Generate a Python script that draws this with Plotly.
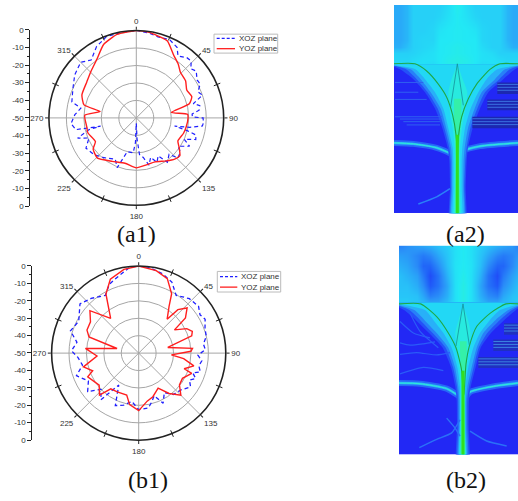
import plotly.graph_objects as go

W, H = 518, 501

# ---------- polar data (angle in degrees, gain in dB) ----------
a1_red_ang = [0,8,15,22,31,38,44,53,61,69,75,81,86,90,100,108,119,125,131,137,145,157,168,180,194,209,224,234,240,253,260,273,280,284,293,306,315,326,336,347,360]
a1_red_db = [0,-0.4,-1.5,-2.5,-8.3,-11,-13.7,-14.7,-17,-16,-18.6,-29.7,-20.6,-20.4,-21,-21.6,-22.8,-20,-17,-17.8,-20,-22.7,-22.5,-21.4,-23.3,-21.6,-18,-19.5,-23,-21,-21.2,-20.5,-29,-19.2,-16.2,-15,-13,-9.6,-4,-1,0]
a1_blue_ang = [0,8,15,23,30,34,40,44,48,52,58,62,67,71,76,79,83,86,89,90,94,97,100,102,104,106,110,114,118,124,128,134,138,145,150,155,160,165,170,175,178,180,182,185,195,201,207,219,229,239,247,251,256,257,259,265,273,280,284,295,305,315,322,331,340,350,360]
a1_blue_db = [0,-0.8,-2,-1.3,-3.4,-7.3,-5,-4.8,-8,-6.5,-9,-8.6,-11.7,-10,-16.4,-13,-13.8,-18,-17.9,-11.8,-11.5,-11.9,-19,-27.6,-20,-14.5,-13.8,-20,-15.5,-21,-18,-17,-22,-19,-25,-22,-26,-22,-27,-29,-38,-47,-36,-30,-30,-19.5,-23.5,-20.7,-18,-16.4,-20.6,-14.5,-22,-29,-14.8,-12.5,-14.8,-17.8,-12,-10,-7,-5,-8,-3.2,-0.4,-0.5,0]

b1_red_ang = [0,12,21,29,33,40,42,47,53,57,63,68,72,79,85,88,93,97,103,109,111,120,128,135,143,151,162,170,180,190,196,209,218,223,231,245,249,256,266,275,282,288,294,303,311,321,331,339,350,360]
b1_red_db = [0,-1.6,-4.2,-11,-18,-24.6,-16.4,-12,-16.4,-25.5,-19,-16.8,-18,-33,-19,-20,-31.2,-24,-17.5,-22.4,-17.4,-21,-20.3,-15.8,-21,-27,-23.7,-22,-17,-20,-25,-24.6,-24,-17,-20.8,-17.7,-21.7,-17.3,-26,-19.3,-37.3,-20,-17.5,-17,-12.9,-24.4,-11.2,-4.6,-1.2,0]
b1_blue_ang = [0,7,17,25,33,38,43,52,58,63,70,76,82,87,92,97,102,107,110,114,118,123,131,140,147,154,160,165,170,180,188,196,204,212,219,226,233,241,250,258,266,272,280,288,298,310,319,330,337,344,354,360]
b1_blue_db = [0,-0.4,-2.5,-5,-10.5,-9,-7.3,-6.4,-8.5,-7.2,-9.5,-10,-12.5,-11.7,-16,-13.5,-14.7,-13,-17,-14.2,-17,-14.5,-17.8,-19,-23,-18,-24,-21,-18,-17.5,-22,-19,-17,-28.4,-15.5,-20,-13.3,-17,-12,-17,-15,-11.4,-14,-8.8,-11,-6,-8.4,-11.7,-7,-4.8,-0.5,0]

rad_tick_vals = [50,40,30,20,10,0,-10,-20,-30,-40,-50]
rad_tick_text = ['0','-10','-20','-30','-40','-50','-40','-30','-20','-10','0']
ang_ticks = [0,45,90,135,180,225,270,315]
ang_minor = [22.5,67.5,112.5,157.5,202.5,247.5,292.5,337.5]
series_names = ['XOZ plane','YOZ plane']

# ---------- field map a2 ----------
a2_x = [42,60,80,100,130,160,180,205,232,260,285,305,335,360,380,400,414]
a2_y = [3,40,80,110,130,150,170,183,184,640]
a2_z = [
 [.43,.43,.47,.56,.56,.56,.56,.60,.68,.60,.56,.56,.56,.56,.47,.43,.43],
 [.43,.43,.47,.56,.56,.56,.58,.62,.66,.62,.58,.56,.56,.56,.47,.43,.43],
 [.43,.43,.47,.56,.56,.58,.63,.65,.66,.65,.63,.58,.56,.56,.47,.43,.43],
 [.43,.43,.47,.56,.58,.58,.65,.65,.66,.65,.65,.58,.56,.56,.47,.43,.43],
 [.45,.45,.50,.56,.58,.60,.65,.66,.68,.66,.65,.60,.56,.56,.50,.45,.45],
 [.56,.56,.56,.57,.60,.62,.65,.66,.68,.66,.65,.62,.60,.56,.56,.56,.56],
 [.58,.58,.58,.60,.62,.62,.65,.68,.70,.68,.65,.62,.62,.60,.58,.58,.58],
 [.60,.60,.60,.62,.62,.60,.65,.68,.70,.68,.65,.60,.62,.62,.60,.60,.60],
 [.02]*17,
 [.02]*17,
]
a2_rows = [184,200,230,270,320,380,440,480,560,700]
a2_glow = [
 ('#2450f8',[20,60,100,135,165,187,203,208,210,210],[440,405,370,325,300,278,264,260,257,256]),
 ('#2880f8',[20,78,110,143,173,193,208,212,213,213],[440,390,358,315,292,271,260,256,253,253]),
 ('#28b0f8',[20,92,122,152,182,199,213,216,216,216],[440,375,345,305,284,264,254,251,250,250]),
 ('#22d8f5',[20,106,135,165,190,205,218,220,220,220],[440,352,320,295,272,255,247,245,245,245]),
]
a2_wedge_y = [190,230,270,320,380,440,480,560,700]
a2_wedge_l = [232,215,205,208,218,224,224,224,224]
a2_wedge_r = [232,248,262,256,246,240,240,240,240]
a2_core_y = [290,340,400,470,700]
a2_core_l = [222,222,225,228,228]
a2_core_r = [244,244,240,237,237]
a2_curve_lx = [42,105,140,175,200,218,228,232,232]
a2_curve_ly = [183,183,205,245,285,340,400,470,640]
a2_curve_rx = [414,360,330,290,265,245,235,232]
a2_curve_ry = [183,183,200,245,290,345,410,470]
a2_spike_x = [212,232,250]
a2_spike_y = [315,183,310]
a2_band_lx = [42,100,170,215,232]
a2_band_ly = [425,428,440,460,480]
a2_band_rx = [235,250,300,414]
a2_band_ry = [480,450,435,425]
a2_arc_x = [115,170,210]
a2_arc_y = [612,590,565]
a2_streaks = [(45,185,345),(60,185,352),(70,180,360),(80,180,370),(45,130,240),(45,115,270),(45,140,292)]
a2_hatch = [(352,414,240,275),(322,414,292,325),(277,414,345,380)]

# ---------- field map b2 ----------
b2_x = [57,80,110,130,150,175,200,225,249,273,300,325,350,370,395,414]
b2_y = [18,50,80,110,140,170,192,193,656]
b2_z = [
 [.30,.35,.40,.42,.45,.50,.55,.62,.66,.62,.55,.50,.45,.42,.38,.30],
 [.40,.38,.32,.28,.32,.42,.52,.62,.66,.62,.52,.42,.32,.28,.32,.38],
 [.45,.42,.33,.22,.22,.34,.50,.63,.66,.63,.50,.34,.22,.22,.33,.42],
 [.50,.46,.40,.28,.14,.26,.46,.62,.68,.62,.46,.26,.14,.28,.40,.46],
 [.50,.50,.44,.34,.18,.26,.42,.62,.70,.62,.42,.26,.18,.34,.44,.50],
 [.52,.52,.50,.42,.30,.34,.45,.62,.70,.62,.45,.34,.30,.42,.50,.52],
 [.55,.55,.52,.48,.42,.42,.50,.62,.70,.62,.50,.42,.42,.48,.52,.55],
 [.02]*16,
 [.02]*16,
]
b2_rows = [192,215,245,285,330,390,450,490,570,720]
b2_glow = [
 ('#2450f8',[30,72,107,147,188,213,226,230,231,231],[440,408,373,333,302,287,272,267,266,266]),
 ('#2880f8',[30,88,120,158,197,219,231,234,235,235],[440,396,360,322,296,281,267,262,262,262]),
 ('#28b0f8',[30,103,133,170,205,225,235,238,238,238],[440,385,347,310,290,275,262,258,258,258]),
 ('#22d8f5',[30,135,160,190,215,232,240,240,240,240],[440,360,330,300,280,265,256,255,255,255]),
]
b2_wedge_y = [205,245,285,330,390,450,490,570,720]
b2_wedge_l = [249,236,226,230,238,243,244,244,244]
b2_wedge_r = [249,264,272,268,260,254,254,254,254]
b2_core_y = [310,340,400,470,720]
b2_core_l = [240,240,243,245,245]
b2_core_r = [260,260,256,253,253]
b2_curve_lx = [57,122,170,205,228,245,249,249]
b2_curve_ly = [196,196,235,285,330,400,480,656]
b2_curve_rx = [414,378,330,290,268,258,252,249]
b2_curve_ry = [196,196,225,265,325,380,470,480]
b2_spike_x = [228,249,268]
b2_spike_y = [325,196,322]
b2_band_lx = [57,120,200,240]
b2_band_ly = [438,440,455,480]
b2_band_rx = [252,270,340,414]
b2_band_ry = [490,465,448,438]
b2_roots = [
 ([118,170,215,240],[635,610,590,550]),
 ([270,320,380],[585,615,630]),
 ([200,225,240],[545,575,600]),
]
b2_texture = [
 ([60,90,130,165],[315,322,318,312]),
 ([60,110,170,210],[350,345,352,345]),
 ([60,100,150],[250,285,300]),
 ([90,120,175],[225,280,330]),
 ([60,130,190],[410,390,400]),
]
b2_hatch = [(372,414,255,290),(340,414,305,340),(295,414,358,392)]

colorscale = [[0,'#2222f5'],[.2,'#2060f8'],[.35,'#2a90f8'],[.5,'#28c0f8'],[.65,'#22e8f5'],[.8,'#30f5c0'],[1,'#20e030']]

fig = go.Figure()

def polar_pair(subplot, rb, ra, bb, ba, blue_w, red_shape):
    fig.add_trace(go.Scatterpolar(theta=ba, r=bb, mode='lines', name=series_names[0], subplot=subplot, showlegend=False,
                                  line=dict(color='#1f1fff', width=blue_w, dash='4px,3px')))
    fig.add_trace(go.Scatterpolar(theta=ra, r=rb, mode='lines', name=series_names[1], subplot=subplot, showlegend=False,
                                  line=dict(color='#ff1f1f', width=1.4, shape=red_shape, smoothing=0.5)))
    fig.add_trace(go.Scatterpolar(theta=ang_minor, r=[0]*len(ang_minor), mode='markers', subplot=subplot, showlegend=False,
                                  hoverinfo='skip', cliponaxis=False,
                                  marker=dict(symbol='line-ns', size=5, angle=ang_minor, color='#222', line=dict(width=1, color='#222'))))

polar_pair('polar', a1_red_db, a1_red_ang, a1_blue_db, a1_blue_ang, 1.2, 'spline')
polar_pair('polar2', b1_red_db, b1_red_ang, b1_blue_db, b1_blue_ang, 1.3, 'linear')

def line(x, y, xa, ya, color, width, shape='spline'):
    fig.add_trace(go.Scatter(x=x, y=y, xaxis=xa, yaxis=ya, mode='lines', showlegend=False, hoverinfo='skip',
                             line=dict(color=color, width=width, shape=shape, smoothing=0.6)))

def poly(x, y, xa, ya, color, shape='spline'):
    fig.add_trace(go.Scatter(x=x, y=y, xaxis=xa, yaxis=ya, mode='lines', fill='toself', fillcolor=color,
                             showlegend=False, hoverinfo='skip', line=dict(width=0, color=color, shape=shape, smoothing=0.6)))

def field(xa, ya, x, y, z, rows, glow, wy, wl, wr, cy, cl, cr, clx, cly, crx, cry, sx, sy, blx, bly, brx, bry):
    fig.add_trace(go.Heatmap(x=x, y=y, z=z, xaxis=xa, yaxis=ya, colorscale=colorscale, zmin=0, zmax=1,
                             zsmooth='best', showscale=False, hoverinfo='skip'))
    line(blx, bly, xa, ya, 'rgba(40,120,248,0.8)', 6)
    line(brx, bry, xa, ya, 'rgba(40,120,248,0.8)', 6)
    line(blx, bly, xa, ya, '#28b8f5', 2.5)
    line(brx, bry, xa, ya, '#28b8f5', 2.5)
    line(blx, bly, xa, ya, '#30e8d8', 1)
    line(brx, bry, xa, ya, '#30e8d8', 1)
    for color, l, r in glow:
        poly(l + r[::-1], rows + rows[::-1], xa, ya, color)
    poly(wl + wr[::-1], wy + wy[::-1], xa, ya, '#28eadf')
    poly(cl + cr[::-1], cy + cy[::-1], xa, ya, '#34f0a8')
    line(clx, cly, xa, ya, '#1fa845', 1.1)
    line(crx, cry, xa, ya, '#1fa845', 1.1)
    line(sx, sy, xa, ya, '#15909a', 0.8, 'linear')

field('x2','y2',a2_x,a2_y,a2_z,a2_rows,a2_glow,a2_wedge_y,a2_wedge_l,a2_wedge_r,a2_core_y,a2_core_l,a2_core_r,a2_curve_lx,a2_curve_ly,a2_curve_rx,a2_curve_ry,a2_spike_x,a2_spike_y,a2_band_lx,a2_band_ly,a2_band_rx,a2_band_ry)
line([232,232],[400,640],'x2','y2','#30e020',3)
line(a2_arc_x,a2_arc_y,'x2','y2','#2a80f8',1.5)
for x0,x1,y in a2_streaks:
    line([x0,x1],[y,y],'x2','y2','#2f60f0',1,'linear')
for x0,x1,y0,y1 in a2_hatch:
    poly([x0,x1,x1,x0],[y0,y0,y1,y1],'x2','y2','#1c28b0','linear')
    for y in [y0+6,y0+15,y0+24]:
        line([x0,x1],[y,y],'x2','y2','#3a70e0',1,'linear')

field('x3','y3',b2_x,b2_y,b2_z,b2_rows,b2_glow,b2_wedge_y,b2_wedge_l,b2_wedge_r,b2_core_y,b2_core_l,b2_core_r,b2_curve_lx,b2_curve_ly,b2_curve_rx,b2_curve_ry,b2_spike_x,b2_spike_y,b2_band_lx,b2_band_ly,b2_band_rx,b2_band_ry)
line([249,249],[400,656],'x3','y3','#30e020',3)
for rx,ry in b2_roots:
    line(rx,ry,'x3','y3','#2a70f8',1.5)
for rx,ry in b2_texture:
    line(rx,ry,'x3','y3','#2a5cf8',1.2)
for x0,x1,y0,y1 in b2_hatch:
    poly([x0,x1,x1,x0],[y0,y0,y1,y1],'x3','y3','#2030c0','linear')
    for y in [y0+6,y0+15,y0+24]:
        line([x0,x1],[y,y],'x3','y3','#3a80e0',1,'linear')

# radial scale bars
fig.add_trace(go.Scatter(x=[0,0], y=[-50,50], xaxis='x4', yaxis='y4', mode='lines', showlegend=False,
                         hoverinfo='skip', line=dict(width=0)))
fig.add_trace(go.Scatter(x=[0,0], y=[-50,50], xaxis='x5', yaxis='y5', mode='lines', showlegend=False,
                         hoverinfo='skip', line=dict(width=0)))

def polar_layout(cx, cy, R):
    return dict(
        domain=dict(x=[(cx-R)/W,(cx+R)/W], y=[1-(cy+R)/H,1-(cy-R)/H]),
        bgcolor='white',
        angularaxis=dict(direction='clockwise', rotation=90, tickmode='array', tickvals=ang_ticks,
                         ticks='outside', ticklen=3, tickcolor='#222', gridcolor='#a6a6a6', gridwidth=1,
                         linecolor='#222', linewidth=1.6, tickfont=dict(family='Liberation Sans', size=8, color='#333')),
        radialaxis=dict(range=[-50,0], tickvals=[-40,-30,-20,-10], showticklabels=False, ticks='',
                        showline=False, gridcolor='#a6a6a6', gridwidth=1),
    )

def radial_y(top, bottom, anchor):
    return dict(domain=[1-bottom/H,1-top/H], range=[-50,50], anchor=anchor, tickmode='array',
                tickvals=rad_tick_vals, ticktext=rad_tick_text, ticks='outside', ticklen=4, tickcolor='#222',
                showline=True, linecolor='#222', linewidth=1, showgrid=False, zeroline=False,
                minor=dict(dtick=5, ticks='outside', ticklen=2, tickcolor='#222'),
                tickfont=dict(family='Liberation Sans', size=8, color='#333'))

def hidden_x(x0, x1, anchor):
    return dict(domain=[x0/W,x1/W], visible=False, anchor=anchor)

def hidden_field(rng, dom):
    return dict(domain=dom, range=rng, visible=False, fixedrange=True)

# legend boxes drawn to the reference's compact size: left, right, top, bottom, line start/end, text x, row ys
legend_boxes = [(214,277.7,30.7,50,216.7,235,237.5,35,45.5),(217.3,280.7,272.3,293.3,220,237.3,240,277.7,288.3)]
shapes, legend_notes = [], []
for l,r,t,b,x0,x1,tx,y0,y1 in legend_boxes:
    shapes.append(dict(type='rect', xref='paper', yref='paper', x0=l/W, x1=r/W, y0=1-b/H, y1=1-t/H,
                       line=dict(color='#bbb', width=1), fillcolor='white'))
    for y,c,d,name in [(y0,'#1f1fff','3px,2px',series_names[0]),(y1,'#ff1f1f','solid',series_names[1])]:
        shapes.append(dict(type='line', xref='paper', yref='paper', x0=x0/W, x1=x1/W, y0=1-y/H, y1=1-y/H,
                           line=dict(color=c, width=1.3, dash=d)))
        legend_notes.append(dict(text=name, x=tx/W, y=1-y/H, xref='paper', yref='paper', showarrow=False,
                                 xanchor='left', yanchor='middle', xshift=-1, font=dict(family='Liberation Sans', size=8, color='#333')))

captions = [('(a1)',136,234),('(a2)',465,234),('(b1)',148,485),('(b2)',466,485)]

fig.update_layout(
    width=W, height=H, margin=dict(l=0,r=0,t=0,b=0), paper_bgcolor='white', plot_bgcolor='white', showlegend=False,
    polar=polar_layout(136.3,116,89), polar2=polar_layout(138.7,355.5,88.7),
    xaxis2=hidden_field([42,414],[394/W,1]), yaxis2=hidden_field([640,3],[1-213/H,1-1/H]),
    xaxis3=hidden_field([57,414],[399/W,1]), yaxis3=hidden_field([656,18],[1-458.7/H,1-246/H]),
    xaxis4=hidden_x(30.3,31,'y4'), yaxis4=radial_y(26.3,205.7,'x4'),
    xaxis5=hidden_x(32.3,33,'y5'), yaxis5=radial_y(266.7,444,'x5'),
    shapes=shapes,
    annotations=legend_notes + [dict(text=t, x=x/W, y=1-y/H, xref='paper', yref='paper', showarrow=False, xanchor='center', yanchor='middle',
                      font=dict(family='Liberation Serif', size=24, color='#111')) for t,x,y in captions],
)

fig.write_html('out.html', config=dict(displayModeBar=False),
               post_script="document.body.style.margin='0';document.body.style.overflow='hidden';")
